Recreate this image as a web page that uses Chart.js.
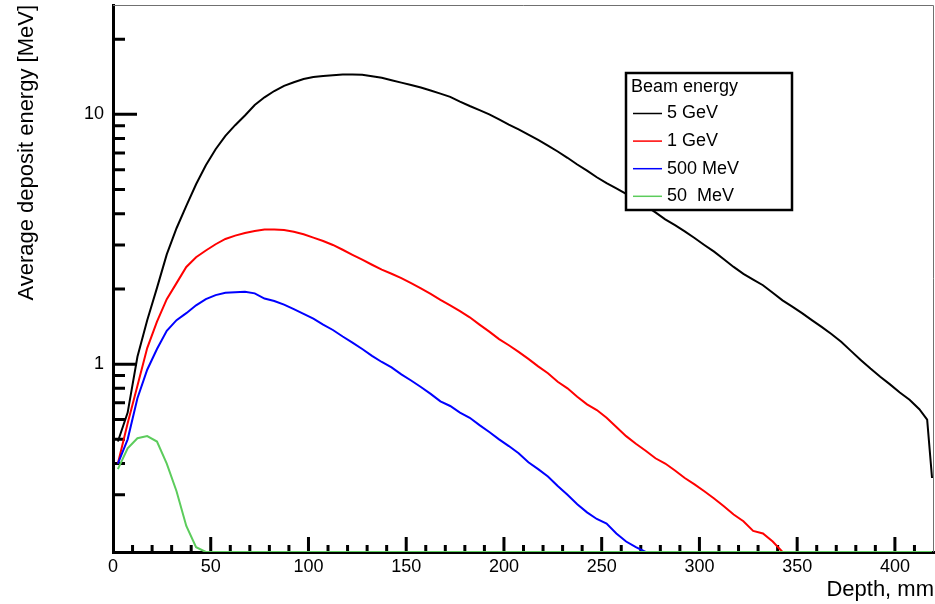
<!DOCTYPE html>
<html>
<head>
<meta charset="utf-8">
<script src="https://cdn.jsdelivr.net/npm/chart.js@4.4.1/dist/chart.umd.min.js"></script>
<style>
  html, body { margin: 0; padding: 0; background: #fff; }
  canvas { display: block; }
</style>
</head>
<body>
<canvas id="depthChart" width="935" height="604"></canvas>
<script>
// --- bin edges (mm) and bin contents (MeV) ---
const depthEdges = [
  0, 5, 10, 15, 20, 25, 30, 35, 40, 45,
  50, 55, 60, 65, 70, 75, 80, 85, 90, 95,
  100, 105, 110, 115, 120, 125, 130, 135, 140, 145,
  150, 155, 160, 165, 170, 175, 180, 185, 190, 195,
  200, 205, 210, 215, 220, 225, 230, 235, 240, 245,
  250, 255, 260, 265, 270, 275, 280, 285, 290, 295,
  300, 305, 310, 315, 320, 325, 330, 335, 340, 345,
  350, 355, 360, 365, 370, 375, 380, 385, 390, 395,
  400, 405, 410, 415, 418, 420
];

const beam5GeV = [
  0.49, 0.64, 1.07, 1.5, 2.02, 2.75, 3.5, 4.3, 5.25, 6.25,
  7.25, 8.2, 9.05, 9.9, 10.9, 11.7, 12.4, 13.0, 13.45, 13.85,
  14.1, 14.25, 14.35, 14.45, 14.45, 14.4, 14.2, 14.0, 13.7, 13.4,
  13.1, 12.8, 12.45, 12.1, 11.75, 11.25, 10.8, 10.4, 10.0, 9.55,
  9.1, 8.7, 8.3, 7.9, 7.5, 7.1, 6.7, 6.3, 5.95, 5.6,
  5.3, 5.05, 4.8, 4.55, 4.3, 4.05, 3.8, 3.6, 3.4, 3.2,
  3.0, 2.82, 2.63, 2.45, 2.3, 2.18, 2.07, 1.93, 1.8, 1.7,
  1.6, 1.5, 1.41, 1.32, 1.23, 1.13, 1.04, 0.96, 0.89, 0.83,
  0.77, 0.72, 0.66, 0.6, 0.35
];

const beam1GeV = [
  0.40, 0.58, 0.82, 1.16, 1.48, 1.82, 2.11, 2.45, 2.68, 2.85,
  3.02, 3.17, 3.27, 3.35, 3.41, 3.46, 3.46, 3.44, 3.39, 3.31,
  3.21, 3.11, 3.00, 2.87, 2.74, 2.62, 2.50, 2.39, 2.30, 2.21,
  2.11, 2.01, 1.91, 1.81, 1.72, 1.63, 1.54, 1.44, 1.35, 1.26,
  1.19, 1.12, 1.05, 0.98, 0.92, 0.85, 0.80, 0.74, 0.69, 0.655,
  0.61, 0.56, 0.515, 0.48, 0.45, 0.42, 0.40, 0.375, 0.35, 0.33,
  0.31, 0.29, 0.27, 0.25, 0.235, 0.215, 0.21, 0.195, 0, 0,
  0, 0, 0, 0, 0, 0, 0, 0, 0, 0,
  0, 0, 0, 0, 0
];

const beam500MeV = [
  0.40, 0.50, 0.73, 0.95, 1.15, 1.36, 1.50, 1.60, 1.72, 1.82,
  1.89, 1.93, 1.94, 1.95, 1.92, 1.83, 1.79, 1.73, 1.66, 1.59,
  1.52, 1.44, 1.37, 1.29, 1.22, 1.15, 1.08, 1.02, 0.97, 0.91,
  0.86, 0.81, 0.76, 0.71, 0.68, 0.64, 0.61, 0.57, 0.535, 0.50,
  0.47, 0.44, 0.405, 0.38, 0.355, 0.325, 0.30, 0.275, 0.255, 0.24,
  0.23, 0.21, 0.195, 0.185, 0, 0, 0, 0, 0, 0,
  0, 0, 0, 0, 0, 0, 0, 0, 0, 0,
  0, 0, 0, 0, 0, 0, 0, 0, 0, 0,
  0, 0, 0, 0, 0
];

const beam50MeV = [
  0.38, 0.46, 0.505, 0.515, 0.49, 0.40, 0.31, 0.225, 0.185, 0,
  0, 0, 0, 0, 0, 0, 0, 0, 0, 0,
  0, 0, 0, 0, 0, 0, 0, 0, 0, 0,
  0, 0, 0, 0, 0, 0, 0, 0, 0, 0,
  0, 0, 0, 0, 0, 0, 0, 0, 0, 0,
  0, 0, 0, 0, 0, 0, 0, 0, 0, 0,
  0, 0, 0, 0, 0, 0, 0, 0, 0, 0,
  0, 0, 0, 0, 0, 0, 0, 0, 0, 0,
  0, 0, 0, 0, 0
];

const seriesLabels = ["5 GeV", "1 GeV", "500 MeV", "50  MeV"];
const seriesColors = ["#000000", "#ff0000", "#0000ff", "#5ccc5c"];
const yTickLabels = [1, 10];

const X_MIN = 0, X_MAX = 420;
const Y_MIN = 0.177, Y_MAX = 27.4;
const FONT = '"Liberation Sans", Arial, Helvetica, sans-serif';

// one point per bin, at its centre; empty bins sit on the frame bottom like ROOT draws them
function histPoints(values) {
  return values.map((v, i) => ({
    x: (depthEdges[i] + depthEdges[i + 1]) / 2,
    y: Math.max(v, Y_MIN)
  }));
}

// ROOT-like frame + inward ticks
const rootAxes = {
  id: "rootAxes",
  beforeDatasetsDraw(chart) {
    const { ctx, chartArea: a, scales: { x, y } } = chart;
    ctx.save();
    ctx.strokeStyle = "#707070";
    ctx.lineWidth = 1;
    ctx.beginPath();
    ctx.moveTo(a.left, a.top + 0.5);
    ctx.lineTo(a.right - 0.5, a.top + 0.5);
    ctx.lineTo(a.right - 0.5, a.bottom);
    ctx.stroke();

    ctx.strokeStyle = "#000";
    ctx.lineWidth = 3;
    ctx.beginPath();
    x.ticks.forEach(t => {
      if (t.value <= X_MIN || t.value >= X_MAX) return;
      const px = x.getPixelForValue(t.value);
      const len = t.value % 50 === 0 ? 15 : 7;
      ctx.moveTo(px, a.bottom);
      ctx.lineTo(px, a.bottom - len);
    });
    y.ticks.forEach(t => {
      const e = Math.floor(Math.log10(t.value) + 1e-9);
      const s = t.value / Math.pow(10, e);
      if (Math.abs(s - Math.round(s)) > 1e-6) return;
      const py = y.getPixelForValue(t.value);
      const len = Math.round(s) === 1 ? 24 : 12;
      ctx.moveTo(a.left, py);
      ctx.lineTo(a.left + len, py);
    });
    ctx.stroke();
    ctx.restore();
  }
};

// boxed legend drawn over the curves
const rootLegend = {
  id: "rootLegend",
  afterDatasetsDraw(chart, args, opts) {
    const { ctx } = chart;
    const { left, top, width, height } = opts;
    ctx.save();
    ctx.fillStyle = "#fff";
    ctx.fillRect(left, top, width, height);
    ctx.strokeStyle = "#000";
    ctx.lineWidth = 2.5;
    ctx.strokeRect(left, top, width, height);
    ctx.font = "18px " + FONT;
    ctx.textBaseline = "middle";
    ctx.fillStyle = "#000";
    ctx.fillText(opts.title, left + 5, top + 14);
    chart.data.datasets.forEach((ds, i) => {
      const yy = top + 40.5 + i * 27.6;
      ctx.strokeStyle = ds.borderColor;
      ctx.lineWidth = 1.5;
      ctx.beginPath();
      ctx.moveTo(left + 7, yy);
      ctx.lineTo(left + 36, yy);
      ctx.stroke();
      ctx.fillStyle = "#000";
      ctx.fillText(ds.label, left + 41, yy);
    });
    ctx.restore();
  }
};

const allSeries = [beam5GeV, beam1GeV, beam500MeV, beam50MeV];

const data = {
  datasets: allSeries.map((vals, i) => ({
    label: seriesLabels[i],
    data: histPoints(vals),
    borderColor: seriesColors[i],
    backgroundColor: seriesColors[i],
    borderWidth: 2,
    pointRadius: 0,
    tension: 0,
    fill: false,
    order: allSeries.length - 1 - i
  }))
};

Chart.defaults.font.family = FONT;
Chart.defaults.color = "#000";

new Chart(document.getElementById("depthChart").getContext("2d"), {
  type: "line",
  data: data,
  plugins: [rootAxes, rootLegend],
  options: {
    responsive: false,
    animation: false,
    devicePixelRatio: 1,
    layout: { padding: { top: 5, right: 1, left: 0, bottom: 0 } },
    plugins: {
      legend: { display: false },
      tooltip: { enabled: false },
      rootLegend: { left: 626, top: 73, width: 166, height: 137, title: "Beam energy" }
    },
    scales: {
      x: {
        type: "linear",
        min: X_MIN,
        max: X_MAX,
        grid: { display: false, drawTicks: false },
        border: { display: true, color: "#000", width: 3 },
        ticks: {
          stepSize: 10,
          autoSkip: false,
          maxRotation: 0,
          padding: 4,
          font: { size: 18 },
          callback: v => (v % 50 === 0 && v < X_MAX ? String(v) : "")
        },
        title: {
          display: true,
          text: "Depth, mm",
          align: "end",
          font: { size: 22 },
          padding: { top: 0, bottom: 1 }
        },
        afterFit(scale) {
          scale.height = 52;
          scale.paddingLeft = 0;
          scale.paddingRight = 0;
        }
      },
      y: {
        type: "logarithmic",
        min: Y_MIN,
        max: Y_MAX,
        grid: { display: false, drawTicks: false },
        border: { display: true, color: "#000", width: 3 },
        ticks: {
          autoSkip: false,
          padding: 9,
          font: { size: 18 },
          callback: v => {
            const hit = yTickLabels.find(t => Math.abs(v - t) < 1e-9);
            return hit !== undefined ? String(hit) : "";
          }
        },
        title: {
          display: true,
          text: "Average deposit energy [MeV]",
          align: "end",
          font: { size: 22 },
          padding: { top: 14, bottom: 0 }
        },
        afterFit(scale) {
          scale.width = 113;
          scale.paddingTop = 0;
          scale.paddingBottom = 0;
        }
      }
    }
  }
});
</script>
</body>
</html>
